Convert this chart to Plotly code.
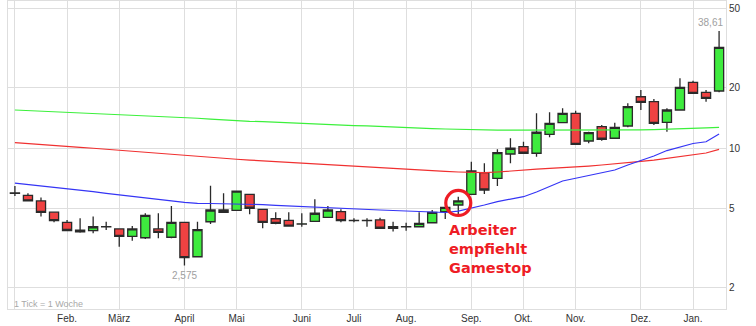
import math
import plotly.graph_objects as go

# ---- data (weekly candles, index 0..54) ----
weeks = list(range(55))
opens = [5.92, 5.79, 5.43, 4.77, 4.24, 3.88, 3.85, 4.02, 3.93, 3.61,
         3.55, 3.93, 3.57, 4.24, 2.85, 4.27, 4.89, 4.87, 5.86, 4.93,
         4.42, 4.34, 4.16, 4.29, 4.49, 4.80, 4.32, 4.32, 4.36, 3.96,
         4.02, 4.03, 4.22, 4.80, 5.18, 5.86, 7.52, 7.05, 9.33, 10.15,
         9.41, 11.71, 13.39, 14.92, 10.84, 12.79, 11.19, 12.89, 18.07, 17.07,
         13.45, 15.50, 21.35, 19.02, 19.31]
highs = [6.45, 5.93, 5.64, 4.78, 4.36, 4.44, 4.53, 4.27, 3.94, 4.06,
         4.71, 4.71, 5.12, 4.25, 4.27, 6.47, 5.93, 6.09, 5.87, 4.94,
         4.76, 4.76, 4.71, 5.53, 5.12, 4.93, 4.44, 4.44, 4.47, 4.27,
         4.22, 4.76, 4.89, 5.05, 5.70, 8.54, 8.38, 9.85, 11.19, 10.75,
         14.92, 15.10, 15.81, 15.38, 12.07, 13.04, 13.39, 16.75, 19.53, 17.60,
         15.81, 22.36, 21.75, 19.53, 38.61]
lows = [5.75, 5.42, 4.53, 4.24, 3.85, 3.76, 3.74, 3.88, 3.20, 3.43,
        3.50, 3.53, 3.53, 2.575, 2.84, 4.16, 4.75, 4.86, 4.65, 3.96,
        4.15, 4.03, 4.03, 4.28, 4.48, 4.24, 4.24, 4.03, 3.95, 3.81,
        3.85, 4.00, 4.19, 4.41, 4.62, 5.85, 5.88, 6.45, 8.38, 9.33,
        9.04, 11.31, 13.30, 10.35, 10.56, 10.88, 11.15, 12.70, 15.50, 13.04,
        12.07, 15.45, 18.65, 17.07, 19.02]
closes = [5.95, 5.43, 4.76, 4.32, 3.86, 3.80, 4.03, 4.03, 3.61, 3.93,
          4.60, 3.78, 4.24, 2.82, 3.90, 4.89, 4.76, 6.08, 4.99, 4.24,
          4.19, 4.06, 4.17, 4.71, 4.89, 4.32, 4.33, 4.33, 3.96, 4.03,
          4.03, 4.19, 4.76, 5.04, 5.43, 7.67, 6.16, 9.47, 9.97, 9.41,
          11.99, 13.30, 14.92, 10.43, 11.93, 11.06, 12.70, 16.11, 16.95, 13.30,
          15.50, 20.15, 18.80, 17.75, 31.97]

ma_long = [15.5, 15.4, 15.3, 15.2, 15.1, 15.0, 14.9, 14.85, 14.75, 14.65,
           14.55, 14.45, 14.3, 14.2, 14.1, 13.95, 13.8, 13.7, 13.6, 13.55,
           13.45, 13.4, 13.35, 13.25, 13.15, 13.05, 12.95, 12.9, 12.8, 12.7,
           12.65, 12.6, 12.5, 12.45, 12.4, 12.3, 12.3, 12.3, 12.3, 12.3,
           12.28, 12.26, 12.25, 12.25, 12.25, 12.26, 12.28, 12.3, 12.32, 12.36,
           12.4, 12.45, 12.5, 12.6, 12.7]
ma_mid = [10.63, 10.5, 10.4, 10.3, 10.2, 10.08, 9.97, 9.85, 9.74, 9.62,
          9.5, 9.38, 9.27, 9.15, 9.06, 8.96, 8.87, 8.78, 8.7, 8.62,
          8.54, 8.46, 8.38, 8.31, 8.24, 8.17, 8.1, 8.02, 7.94, 7.86,
          7.78, 7.73, 7.68, 7.63, 7.58, 7.54, 7.52, 7.58, 7.68, 7.76,
          7.83, 7.9, 7.96, 8.03, 8.12, 8.22, 8.31, 8.43, 8.56, 8.7,
          8.86, 9.04, 9.22, 9.44, 9.85]
ma_short = [6.66, 6.56, 6.47, 6.37, 6.28, 6.16, 6.04, 5.92, 5.81, 5.71,
            5.61, 5.52, 5.43, 5.34, 5.28, 5.27, 5.26, 5.26, 5.24, 5.2,
            5.16, 5.12, 5.08, 5.05, 5.02, 4.98, 4.95, 4.92, 4.89, 4.86,
            4.83, 4.80, 4.77, 4.75, 4.83, 4.98, 5.18, 5.39, 5.55, 5.70,
            6.02, 6.42, 6.83, 7.05, 7.28, 7.49, 7.76, 8.22, 8.64, 9.12,
            9.71, 10.15, 10.53, 10.75, 11.75]

month_ticks = [0, 4, 8, 13, 17, 22, 26, 30, 35, 39, 43, 48, 52]
month_labels = ["", "Feb.", "März", "April", "Mai", "Juni", "Juli", "Aug.",
                "Sep.", "Okt.", "Nov.", "Dez.", "Jan."]
y_ticks = [2, 5, 10, 20, 50]
y_labels = ["2", "5", "10", "20", "50"]

low_label = "2,575"
high_label = "38,61"
note_text = "Arbeiter<br>empfiehlt<br>Gamestop"
note_week = 34
tick_note = "1 Tick = 1 Woche"

fig = go.Figure()
fig.add_trace(go.Scatter(x=weeks, y=ma_long, mode="lines",
                         line=dict(color="#3cf03c", width=1.2), hoverinfo="skip"))
fig.add_trace(go.Scatter(x=weeks, y=ma_mid, mode="lines",
                         line=dict(color="#f03030", width=1.2), hoverinfo="skip"))
fig.add_trace(go.Scatter(x=weeks, y=ma_short, mode="lines",
                         line=dict(color="#3535f5", width=1.2), hoverinfo="skip"))
fig.add_trace(go.Candlestick(
    x=weeks, open=opens, high=highs, low=lows, close=closes,
    increasing=dict(fillcolor="#3eeb3e", line=dict(color="#2a2a2a", width=1.3)),
    decreasing=dict(fillcolor="#ef4242", line=dict(color="#2a2a2a", width=1.3)),
    whiskerwidth=0,
))

# red circle around the highlighted candle
mid_val = math.sqrt(opens[note_week] * closes[note_week])
fig.add_trace(go.Scatter(x=[note_week], y=[mid_val], mode="markers",
                         marker=dict(symbol="circle-open", size=25, color="#ee1c25",
                                     line=dict(color="#ee1c25", width=3.2)),
                         hoverinfo="skip"))

grid = "#dedede"
fig.update_layout(
    width=756, height=326,
    margin=dict(l=8, r=30, t=1, b=17),
    paper_bgcolor="white", plot_bgcolor="white",
    showlegend=False,
    boxgap=0.0,
    font=dict(family="Arial, Liberation Sans, sans-serif", size=10, color="#333"),
    xaxis=dict(
        range=[-0.53, 54.53], tickmode="array", tickvals=month_ticks, ticktext=month_labels,
        showgrid=True, gridcolor=grid, gridwidth=1, zeroline=False,
        showline=True, linecolor=grid, mirror=True, ticks="",
        rangeslider=dict(visible=False), tickfont=dict(size=10, color="#333"),
    ),
    yaxis=dict(
        type="log", range=[0.193, 1.7368], side="right",
        tickmode="array", tickvals=y_ticks, ticktext=y_labels,
        showgrid=True, gridcolor=grid, gridwidth=1, zeroline=False,
        showline=True, linecolor=grid, mirror=True, ticks="",
        tickfont=dict(size=10, color="#333"),
    ),
)

# annotations
fig.add_annotation(x=13, y=math.log10(lows[13]), text=low_label, showarrow=False,
                   yanchor="top", yshift=-2, font=dict(size=10, color="#a0a0a0"))
fig.add_annotation(x=54, y=math.log10(highs[54]), text=high_label, showarrow=False,
                   yanchor="bottom", xshift=-9, yshift=1, font=dict(size=10, color="#a0a0a0"))
fig.add_annotation(xref="paper", yref="paper", x=0.006, y=0.016, text=tick_note,
                   showarrow=False, xanchor="left", yanchor="middle",
                   font=dict(size=9, color="#a8a8a8"))
fig.add_annotation(x=note_week, y=math.log10(mid_val), text=note_text, showarrow=False,
                   xanchor="left", yanchor="top", align="left", xshift=-11, yshift=-17,
                   font=dict(family="DejaVu Sans", size=14.5, color="#ee1c25", weight="bold"))

fig.write_html("out.html")
